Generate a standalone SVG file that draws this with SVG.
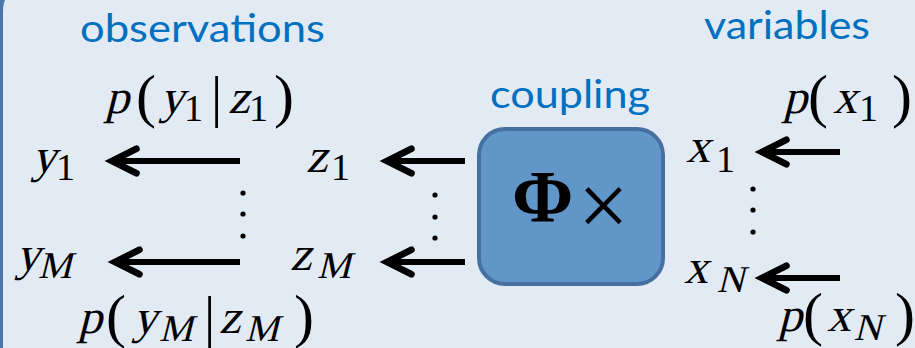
<svg xmlns="http://www.w3.org/2000/svg" width="915" height="348" viewBox="0 0 915 348">
<defs>
<style>
.lbl{font-family:Lato,"Open Sans","Liberation Sans",sans-serif;fill:#0070c0;font-size:38px}
.mt{font-family:"Liberation Serif","Times New Roman",serif;font-size:48px;fill:#000}
.sb{font-size:38px}
.sm{font-size:38px}
.pa{font-size:60px}
.bar{font-size:56px}
.arr{stroke:#000;stroke-width:6;fill:none;marker-end:url(#chev)}
.dot{fill:#000}
</style>
<marker id="chev" markerUnits="userSpaceOnUse" orient="auto" refX="0" refY="0" markerWidth="40" markerHeight="40" viewBox="-30 -16 36 32" overflow="visible">
<path d="M -22 -11 L 0 0 L -22 11" fill="none" stroke="#000" stroke-width="6" stroke-linecap="round" stroke-linejoin="miter"/>
</marker>
</defs>
<rect x="0" y="0" width="915" height="348" fill="#e2eaf4"/>
<path d="M0 0 H5 Q3 4 3 12 V348 H0 Z" fill="#4a76a8"/>

<g id="label-observations"><text class="lbl" x="80" y="42" textLength="245" lengthAdjust="spacingAndGlyphs">observations</text></g>
<g id="label-variables"><text class="lbl" x="704" y="39" textLength="166" lengthAdjust="spacingAndGlyphs">variables</text></g>
<g id="label-coupling"><text class="lbl" x="490" y="108" textLength="160" lengthAdjust="spacingAndGlyphs">coupling</text></g>

<g id="node-coupling">
<rect x="479" y="129" width="184" height="155" rx="26" ry="26" fill="#6096c8" stroke="#4670a0" stroke-width="4"/>
<text x="512" y="222" font-family="Liberation Serif, serif" font-weight="bold" font-size="74">Φ</text>
<text x="578" y="236" font-family="Liberation Serif, serif" font-size="90">×</text>
</g>

<g id="node-y1">
<text class="mt" transform="translate(0,172) skewX(-14)"><tspan x="32" y="0">y</tspan></text>
<text class="mt sb" x="56" y="180">1</text>
</g>
<g id="node-yM">
<text class="mt" transform="translate(0,270) skewX(-14)"><tspan x="16" y="0">y</tspan><tspan class="sm" x="40" y="8">M</tspan></text>
</g>
<g id="node-z1">
<text class="mt" transform="translate(0,172) skewX(-14)"><tspan x="306" y="0">z</tspan></text>
<text class="mt sb" x="331" y="180">1</text>
</g>
<g id="node-zM">
<text class="mt" transform="translate(0,270) skewX(-14)"><tspan x="290" y="0">z</tspan><tspan class="sm" x="319" y="8">M</tspan></text>
</g>
<g id="node-x1">
<text class="mt" transform="translate(0,162) skewX(-14)"><tspan x="686" y="0">x</tspan></text>
<text class="mt sb" x="716" y="172">1</text>
</g>
<g id="node-xN">
<text class="mt" transform="translate(0,283) skewX(-14)"><tspan x="684" y="0">x</tspan><tspan class="sm" x="719" y="9">N</tspan></text>
</g>

<g id="label-pyz1">
<text class="mt" transform="translate(0,113) skewX(-14)"><tspan x="105" y="0">p</tspan><tspan x="160" y="0">y</tspan><tspan x="228" y="0">z</tspan></text>
<text class="mt"><tspan class="pa" x="136" y="116">(</tspan><tspan class="sb" x="184" y="121">1</tspan><tspan class="bar" x="211" y="116">|</tspan><tspan class="sb" x="249" y="121">1</tspan><tspan class="pa" x="274" y="116">)</tspan></text>
</g>
<g id="label-pyzM">
<text class="mt" transform="translate(0,333) skewX(-14)"><tspan x="78" y="0">p</tspan><tspan x="133" y="0">y</tspan><tspan class="sm" x="161" y="8">M</tspan><tspan x="219" y="0">z</tspan><tspan class="sm" x="247" y="8">M</tspan></text>
<text class="mt"><tspan class="pa" x="106" y="336">(</tspan><tspan class="bar" x="204" y="336">|</tspan><tspan class="pa" x="294" y="336">)</tspan></text>
</g>
<g id="label-px1">
<text class="mt" transform="translate(0,113) skewX(-14)"><tspan x="783" y="0">p</tspan><tspan x="833" y="0">x</tspan></text>
<text class="mt"><tspan class="pa" x="808" y="116">(</tspan><tspan class="sb" x="859" y="121">1</tspan><tspan class="pa" x="892" y="116">)</tspan></text>
</g>
<g id="label-pxN">
<text class="mt" transform="translate(0,331) skewX(-14)"><tspan x="778" y="0">p</tspan><tspan x="827" y="0">x</tspan><tspan class="sm" x="856" y="9">N</tspan></text>
<text class="mt"><tspan class="pa" x="803" y="334">(</tspan><tspan class="pa" x="895" y="334">)</tspan></text>
</g>

<g id="connectors">
<line class="arr" x1="240" y1="161" x2="112" y2="161"/>
<line class="arr" x1="465" y1="161" x2="387" y2="161"/>
<line class="arr" x1="240" y1="262" x2="115" y2="262"/>
<line class="arr" x1="465" y1="262" x2="387" y2="262"/>
<line class="arr" x1="840" y1="152" x2="762" y2="152"/>
<line class="arr" x1="840" y1="278" x2="762" y2="278"/>
</g>

<g id="dots">
<circle class="dot" cx="243" cy="193" r="2.6"/><circle class="dot" cx="243" cy="214" r="2.6"/><circle class="dot" cx="243" cy="236" r="2.6"/>
<circle class="dot" cx="435" cy="195" r="2.6"/><circle class="dot" cx="435" cy="217" r="2.6"/><circle class="dot" cx="435" cy="238" r="2.6"/>
<circle class="dot" cx="753" cy="189" r="2.6"/><circle class="dot" cx="753" cy="210" r="2.6"/><circle class="dot" cx="753" cy="232" r="2.6"/>
</g>
</svg>
